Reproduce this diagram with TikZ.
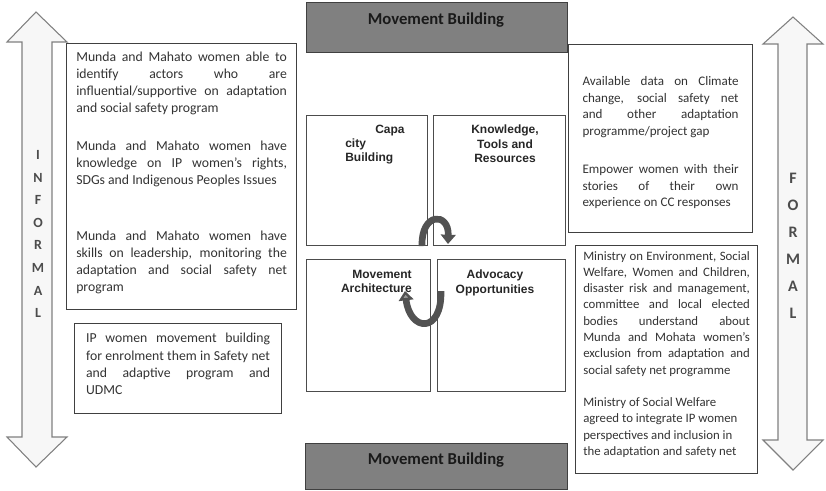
\documentclass[tikz,border=0pt]{standalone}
\usepackage{fontspec}
\setmainfont{Carlito}
\newfontfamily\arialfont{Liberation Sans}
\usetikzlibrary{positioning,arrows.meta}
\hyphenpenalty=10000
\exhyphenpenalty=10000
\tolerance=9999

\begin{document}
\begin{tikzpicture}[x=0.75pt,y=-0.75pt,
    txtbox/.style={draw=black!75,line width=0.9pt,anchor=north west,inner sep=0pt},
    bodytext/.style={inner sep=0pt,align=justify,text=black!80,
      font=\fontsize{10.3}{12.75}\selectfont},
    bar/.style={draw=black!75,fill=black!50,line width=0.9pt,anchor=north west,inner sep=0pt},
    bartext/.style={inner sep=0pt,text=black!90,font=\bfseries\fontsize{12.5}{14}\selectfont},
    quad/.style={draw=black!70,line width=0.8pt,anchor=north west,inner sep=0pt,
      minimum height=97.5pt},
    quadtext/.style={inner sep=0pt,text=black!85,
      font=\arialfont\bfseries\fontsize{9}{10.6}\selectfont},
    blockarrow/.style={draw=black!50,fill=black!3,line width=0.8pt},
    arrowletter/.style={inner sep=0pt,text=black!70,font=\bfseries\fontsize{10.5}{12}\selectfont},
    turn/.style={draw=black!68,line width=5pt}]
  \useasboundingbox (0,0) rectangle (826,490);

  % informal / formal arrows
  \draw[blockarrow] (36,12) -- (67,42) -- (52,42) -- (52,437) -- (67,437) -- (36,467)
    -- (7,437) -- (22,437) -- (22,42) -- (7,42) -- cycle;
  \draw[blockarrow] (793,17) -- (823,44) -- (807,44) -- (807,440) -- (823,440) -- (793,470)
    -- (763,440) -- (778,440) -- (778,44) -- (763,44) -- cycle;
  \foreach \ch [count=\i] in {I,N,F,O,R,M,A,L}
    \node[arrowletter] (inf\i) at (38,132.4+22.6*\i) {\ch};
  \foreach \ch [count=\i] in {F,O,R,M,A,L}
    \node[arrowletter,font=\bfseries\fontsize{12}{14}\selectfont] (for\i) at (793,151+27*\i) {\ch};

  % left column
  \node[txtbox,minimum width=172.5pt,minimum height=199.5pt] (lbox1) at (66,43) {};
  \node[bodytext,text width=158pt,below=6.5pt of lbox1.north] (ltext1) {%
    Munda and Mahato women able to\linebreak identify actors who are\linebreak
    influential/supportive on adaptation\linebreak and social safety program\par
    \vspace*{15.75pt}
    Munda and Mahato women have\linebreak knowledge on IP women's rights,\linebreak
    SDGs and Indigenous Peoples Issues\par
    \vspace*{29.25pt}
    Munda and Mahato women have\linebreak skills on leadership, monitoring the\linebreak
    adaptation and social safety net\linebreak program};
  \node[txtbox,minimum width=155.25pt,minimum height=67.5pt] (lbox2) at (74,323) {};
  \node[bodytext,text width=138pt,font=\fontsize{10.3}{13}\selectfont,
    below=7.5pt of lbox2.north] (ltext2) {%
    IP women movement building\linebreak for enrolment them in Safety net\linebreak
    and adaptive program and\linebreak UDMC};

  % centre
  \node[bar,minimum width=195.75pt,minimum height=37.5pt] (topbar) at (306,2) {};
  \node[bartext] (toptitle) at (436,20) {Movement Building};
  \node[bar,minimum width=196.5pt,minimum height=34.5pt] (botbar) at (305,443) {};
  \node[bartext] (bottitle) at (436,460) {Movement Building};

  \node[quad,minimum width=90.75pt] (qtl) at (306,115) {};
  \node[quad,minimum width=99pt] (qtr) at (433,115) {};
  \node[quad,minimum width=93pt,minimum height=99pt] (qbl) at (306,259) {};
  \node[quad,minimum width=96pt,minimum height=99pt] (qbr) at (437,259) {};
  \node[quadtext,align=left,anchor=north west] (capa) at (345,125) {\hspace*{22.5pt}Capa\\city\\Building};
  \node[quadtext,align=center,anchor=north] (ktr) at (505,125) {Knowledge,\\Tools and\\Resources};
  \node[quadtext,align=right,anchor=north east] (march) at (412,270) {Movement\\Architecture};
  \node[quadtext,align=center,anchor=north] (advo) at (495,270) {Advocacy\\Opportunities};

  \draw[turn,-{Triangle[width=11pt,length=7pt]}] (422,246) .. controls (421,212) and (449,212) .. (448,244);
  \draw[turn,-{Triangle[width=11pt,length=7pt,fill=black!40]}] (441,291) .. controls (442,334) and (410,332) .. (405,291);

  % right column
  \node[txtbox,minimum width=138pt,minimum height=141pt] (rbox1) at (568,44) {};
  \node[bodytext,text width=117pt,font=\fontsize{9.8}{12.5}\selectfont,
    yshift=-3pt] (rtext1) at (rbox1.center) {%
    Available data on Climate\linebreak change, social safety net\linebreak
    and other adaptation\linebreak programme/project gap\par
    \vspace*{16pt}
    Empower women with their\linebreak stories of their own\linebreak
    experience on CC responses};
  \node[txtbox,minimum width=136.5pt,minimum height=171pt] (rbox2) at (575,245) {};
  \node[bodytext,text width=125pt,font=\fontsize{9.6}{12.2}\selectfont,
    below=4.5pt of rbox2.north] (rtext2) {%
    Ministry on Environment, Social Welfare, Women and Children, disaster risk and management, committee and local elected bodies understand about Munda and Mohata women's exclusion from adaptation and social safety net programme\par
    \vspace*{12.25pt}
    {\raggedright Ministry of Social Welfare agreed to integrate IP women perspectives and inclusion in the adaptation and safety net\par}};
\end{tikzpicture}
\end{document}
